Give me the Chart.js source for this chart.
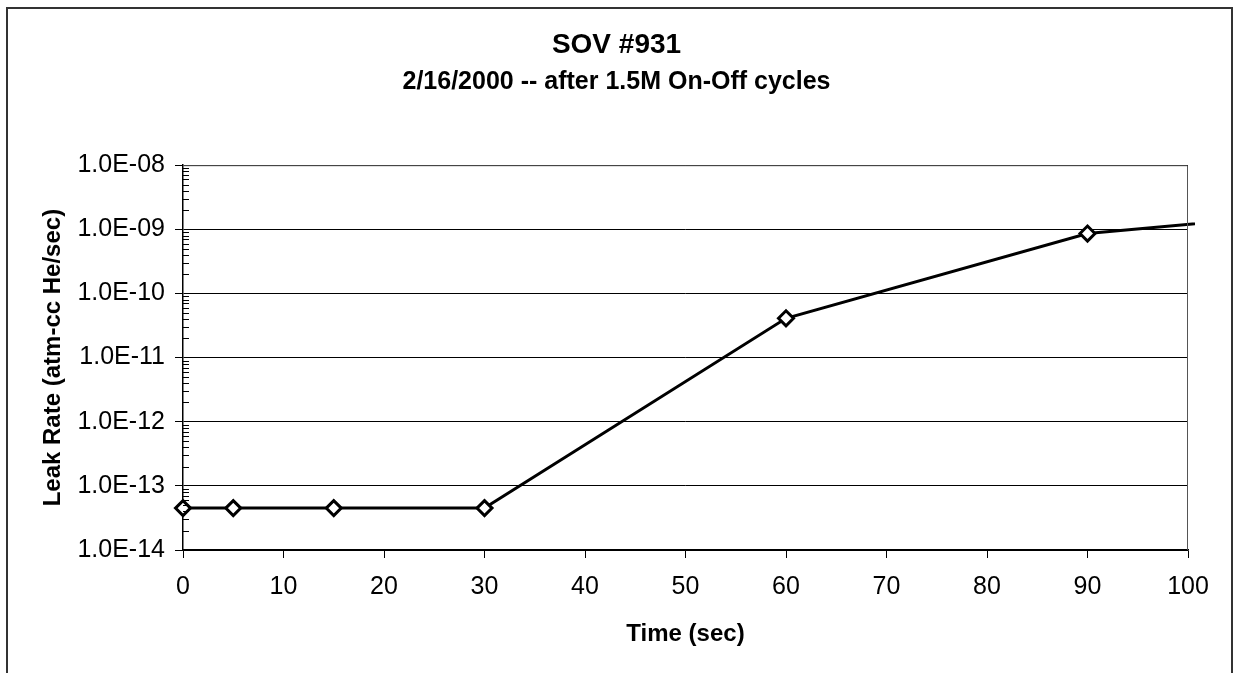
<!DOCTYPE html>
<html>
<head>
<meta charset="utf-8">
<script src="https://cdn.jsdelivr.net/npm/chart.js@4.4.1/dist/chart.umd.min.js"></script>
<style>
  html, body { margin: 0; padding: 0; background: #fff; }
  #wrap { width: 1233px; height: 673px; }
</style>
</head>
<body>
<div id="wrap"><canvas id="leakChart" width="1233" height="673"></canvas></div>
<script>
// SOV #931 helium leak test after 1.5M on-off cycles
const times = [0, 5, 15, 30, 60, 90, 120];
const leakRate = [4.5e-14, 4.5e-14, 4.5e-14, 4.5e-14, 4.1e-11, 8.6e-10, 2.3e-9];

const yTickValues = [1e-14, 1e-13, 1e-12, 1e-11, 1e-10, 1e-9, 1e-8];
const yTickLabels = ['1.0E-14', '1.0E-13', '1.0E-12', '1.0E-11', '1.0E-10', '1.0E-09', '1.0E-08'];

const FONT = "'Liberation Sans', Arial, sans-serif";

// outer frame of the chart object (no bottom edge, it runs off the page)
const framePlugin = {
    id: 'frame',
    beforeDraw(chart) {
        const ctx = chart.ctx;
        ctx.save();
        ctx.strokeStyle = '#333';
        ctx.lineWidth = 2;
        ctx.beginPath();
        ctx.moveTo(7, 700);
        ctx.lineTo(7, 8);
        ctx.lineTo(1232, 8);
        ctx.lineTo(1232, 700);
        ctx.stroke();
        ctx.restore();
    }
};

// plot area border + minor log ticks on the value axis
const plotBoxPlugin = {
    id: 'plotBox',
    afterDraw(chart) {
        const ctx = chart.ctx;
        const a = chart.chartArea;
        const y = chart.scales.y;
        ctx.save();
        ctx.strokeStyle = '#555';
        ctx.lineWidth = 1;
        ctx.beginPath();
        ctx.moveTo(a.left, a.top + 0.5);
        ctx.lineTo(a.right - 0.5, a.top + 0.5);
        ctx.lineTo(a.right - 0.5, a.bottom);
        ctx.stroke();

        ctx.strokeStyle = '#000';
        ctx.beginPath();
        for (let d = -14; d < -8; d++) {
            for (let m = 2; m <= 9; m++) {
                const py = Math.round(y.getPixelForValue(m * Math.pow(10, d))) + 0.5;
                ctx.moveTo(a.left, py);
                ctx.lineTo(a.left + 6, py);
            }
        }
        ctx.stroke();
        ctx.restore();
    }
};

const ctx = document.getElementById('leakChart').getContext('2d');

const leakChart = new Chart(ctx, {
    type: 'line',
    data: {
        datasets: [{
            label: 'Leak Rate',
            data: times.map((t, i) => ({ x: t, y: leakRate[i] })),
            borderColor: '#000',
            borderWidth: 3,
            backgroundColor: '#fff',
            pointStyle: 'rectRot',
            pointRadius: 7.5,
            pointBorderWidth: 3,
            pointBorderColor: '#000',
            pointBackgroundColor: '#fff',
            tension: 0,
            clip: { left: 12, top: 12, right: 7, bottom: 12 }
        }]
    },
    options: {
        responsive: false,
        animation: false,
        layout: { padding: { left: 45, right: 45, top: 0, bottom: 0 } },
        plugins: {
            legend: { display: false },
            tooltip: { enabled: false },
            title: {
                display: true,
                text: 'SOV #931',
                color: '#000',
                font: { family: FONT, size: 28, weight: 'bold', lineHeight: 1.2 },
                padding: { top: 28, bottom: 0 }
            },
            subtitle: {
                display: true,
                text: '2/16/2000 -- after 1.5M On-Off cycles',
                color: '#000',
                font: { family: FONT, size: 25, weight: 'bold', lineHeight: 1.2 },
                padding: { top: 6, bottom: 67.6 }
            }
        },
        scales: {
            x: {
                type: 'linear',
                min: 0,
                max: 100,
                afterFit: (scale) => { scale.height = 123; },
                ticks: {
                    stepSize: 10,
                    color: '#000',
                    font: { family: FONT, size: 25 },
                    padding: 14,
                    maxRotation: 0
                },
                grid: {
                    drawOnChartArea: false,
                    drawTicks: true,
                    tickLength: 8,
                    color: '#000',
                    lineWidth: 1
                },
                border: { display: true, color: '#000', width: 1.5 },
                title: {
                    display: true,
                    text: 'Time (sec)',
                    color: '#000',
                    font: { family: FONT, size: 24, weight: 'bold', lineHeight: 1.2 },
                    padding: { top: 0, bottom: 24 }
                }
            },
            y: {
                type: 'logarithmic',
                min: 1e-14,
                max: 1e-8,
                afterFit: (scale) => { scale.width = 138; },
                afterBuildTicks: (scale) => {
                    scale.ticks = yTickValues.map(v => ({ value: v, major: true }));
                },
                ticks: {
                    color: '#000',
                    font: { family: FONT, size: 25 },
                    padding: 10,
                    autoSkip: false,
                    callback: (value, index) => yTickLabels[index]
                },
                grid: {
                    drawOnChartArea: true,
                    drawTicks: true,
                    tickLength: 8,
                    color: '#000',
                    lineWidth: 1
                },
                border: { display: true, color: '#000', width: 1.5 },
                title: {
                    display: true,
                    text: 'Leak Rate (atm-cc He/sec)',
                    color: '#000',
                    font: { family: FONT, size: 24, weight: 'bold', lineHeight: 1 },
                    padding: { top: -4, bottom: 0 }
                }
            }
        }
    },
    plugins: [framePlugin, plotBoxPlugin]
});
</script>
</body>
</html>
